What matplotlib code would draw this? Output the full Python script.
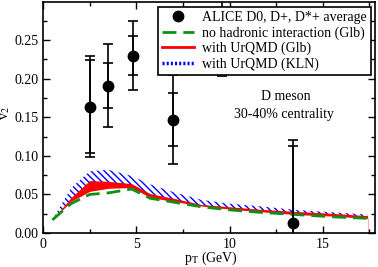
import matplotlib
matplotlib.use("Agg")
import matplotlib.pyplot as plt
from matplotlib.lines import Line2D
from matplotlib.ticker import MultipleLocator, FormatStrFormatter

plt.rcParams['font.family'] = ['Liberation Serif', 'DejaVu Serif']
plt.rcParams['mathtext.fontset'] = 'stix'
plt.rcParams['hatch.linewidth'] = 1.0

# ALICE data points
pt_data = [2.5, 3.5, 4.85, 6.95, 9.6, 13.4]
v2_data = [0.164, 0.191, 0.230, 0.147, 0.260, 0.0134]
err_big = [0.065, 0.054, 0.045, 0.058, 0.057, 0.107]
err_small = [0.060, 0.029, 0.025, 0.034, 0.030, 0.100]

# model curves
pt_grid = [0.5, 1.5, 2.5, 3.5, 4.75, 5.75, 7.0, 8.5, 10.0, 11.5, 13.5, 15.5, 17.4]
v2_nohad = [0.017, 0.038, 0.050, 0.052, 0.057, 0.045, 0.040, 0.034, 0.030, 0.027, 0.024, 0.021, 0.019]
glb_lo = [0.017, 0.041, 0.054, 0.058, 0.059, 0.046, 0.041, 0.035, 0.031, 0.028, 0.024, 0.022, 0.019]
glb_hi = [0.017, 0.046, 0.068, 0.067, 0.064, 0.051, 0.045, 0.037, 0.034, 0.031, 0.028, 0.0255, 0.0225]
kln_hi = [0.017, 0.058, 0.080, 0.082, 0.074, 0.063, 0.053, 0.043, 0.038, 0.035, 0.030, 0.027, 0.024]

fig = plt.figure(figsize=(3.78, 2.67), dpi=100)
ax = fig.add_axes([0.1138, 0.1273, 0.8782, 0.8652])

ax.fill_between(pt_grid, glb_lo, kln_hi, facecolor='none', edgecolor='blue',
                hatch='\\' * 5, linewidth=0, zorder=1)
ax.fill_between(pt_grid, glb_lo, glb_hi, color='red', linewidth=0, zorder=2)
ax.vlines(pt_grid[-1], 0, glb_lo[-1], color='#ffb0b0', lw=0.8, zorder=1)
ax.plot(pt_grid, v2_nohad, color='#109010', lw=2.0, dashes=(5, 2.5), zorder=3)

ax.errorbar(pt_data, v2_data, yerr=err_big, fmt='none', ecolor='black',
            elinewidth=1.2, capsize=3.6, capthick=1.2, zorder=4)
ax.errorbar(pt_data, v2_data, yerr=err_small, fmt='o', color='black',
            ms=7.5, elinewidth=1.2, capsize=3.6, capthick=1.2, zorder=4)

ax.set_xlim(0, 17.8)
ax.set_ylim(0, 0.2995)
ax.xaxis.set_major_locator(MultipleLocator(5))
ax.xaxis.set_minor_locator(MultipleLocator(2.5))
ax.yaxis.set_major_locator(MultipleLocator(0.05))
ax.yaxis.set_minor_locator(MultipleLocator(0.025))
ax.yaxis.set_major_formatter(FormatStrFormatter('%.2f'))
ax.tick_params(which='both', direction='in', top=True, right=True, labelsize=10, width=1)
ax.tick_params(which='major', length=5)
ax.tick_params(which='minor', length=3)
for s in ax.spines.values():
    s.set_linewidth(1.2)

ax.set_xlabel(r'p$_\mathrm{T}$ (GeV)', fontsize=10)
ax.xaxis.set_label_coords(0.506, -0.072)
ax.set_ylabel(r'v$_2$', fontsize=10)
ax.yaxis.set_label_coords(-0.093, 0.52)

ax.text(13.0, 0.177, 'D meson', ha='center', va='center', fontsize=10)
ax.text(12.9, 0.154, '30-40% centrality', ha='center', va='center', fontsize=10)

handles = [
    Line2D([], [], marker='o', color='black', ls='none', ms=7.5),
    Line2D([], [], color='#109010', lw=2.0, dashes=(5, 2.5)),
    Line2D([], [], color='red', lw=2.0),
    Line2D([], [], color='blue', lw=2.5, ls=(0, (0.6, 0.6))),
]
labels = ['ALICE D0, D+, D*+ average', 'no hadronic interaction (Glb)',
          'with UrQMD (Glb)', 'with UrQMD (KLN)']
leg = ax.legend(handles, labels, loc='upper right', bbox_to_anchor=(0.988, 0.978),
                borderaxespad=0, fontsize=10, frameon=True, fancybox=False,
                framealpha=1, edgecolor='black', handlelength=2.3,
                handletextpad=0.6, labelspacing=0.15, borderpad=0.3)
leg.get_frame().set_linewidth(1.2)
leg.set_zorder(10)

plt.savefig('out.png', dpi=100)
